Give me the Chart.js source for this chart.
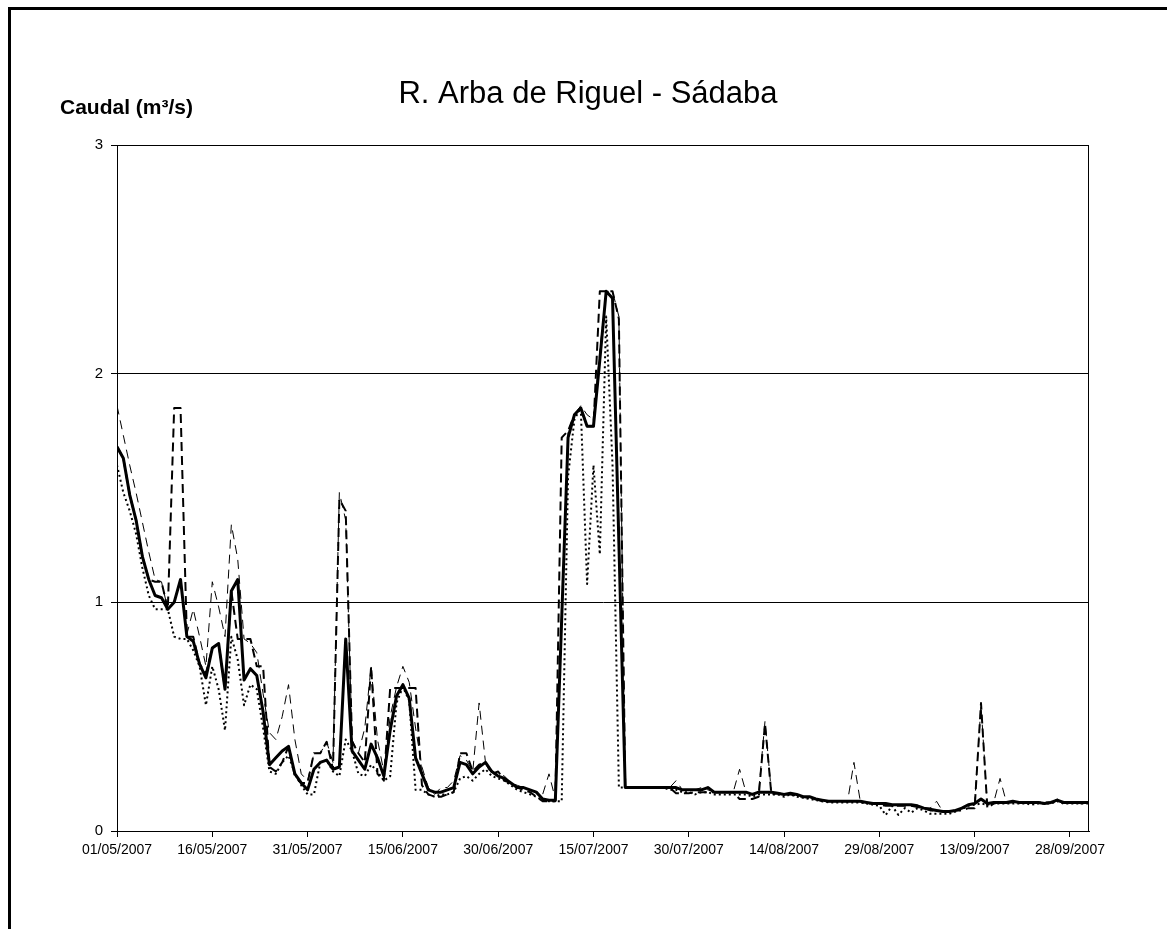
<!DOCTYPE html>
<html>
<head>
<meta charset="utf-8">
<script src="https://cdn.jsdelivr.net/npm/chart.js@4.4.0/dist/chart.umd.min.js"></script>
<style>
  html, body { margin: 0; padding: 0; background: #fff; }
  #wrap { position: relative; width: 1167px; height: 929px; overflow: hidden; }
  #frame { position: absolute; left: 8px; top: 7px; width: 1300px; height: 1100px;
           border-top: 3px solid #000; border-left: 3px solid #000; }
  canvas { position: absolute; left: 0; top: 0; }
</style>
</head>
<body>
<div id="wrap">
  <div id="frame"></div>
  <canvas id="chart" width="1167" height="929"></canvas>
</div>
<script>
// Textos
var chartTitle = "R. Arba de Riguel - Sádaba";
var yTitle = "Caudal (m³/s)";

// Etiquetas del eje X (una cada 15 días, desde el 01/05/2007)
var tickLabels = ["01/05/2007", "16/05/2007", "31/05/2007", "15/06/2007", "30/06/2007",
    "15/07/2007", "30/07/2007", "14/08/2007", "29/08/2007", "13/09/2007", "28/09/2007"];
var tickStep = 15;
var numDays = 154; // 01/05/2007 .. 01/10/2007

// Caudal diario - línea continua gruesa
var caudalA = [
    1.68, 1.63, 1.47, 1.36, 1.20, 1.10, 1.03, 1.02, 0.97, 1.00,
    1.10, 0.85, 0.83, 0.73, 0.67, 0.80, 0.82, 0.62, 1.05, 1.10,
    0.66, 0.71, 0.68, 0.52, 0.29, 0.32, 0.35, 0.37, 0.25, 0.21,
    0.18, 0.27, 0.30, 0.31, 0.27, 0.28, 0.84, 0.35, 0.31, 0.27,
    0.38, 0.32, 0.24, 0.44, 0.59, 0.64, 0.58, 0.32, 0.25, 0.18,
    0.17, 0.17, 0.18, 0.19, 0.30, 0.29, 0.25, 0.28, 0.30, 0.26,
    0.24, 0.23, 0.21, 0.19, 0.19, 0.18, 0.17, 0.14, 0.135, 0.135,
    0.93, 1.72, 1.82, 1.85, 1.77, 1.77, 2.06, 2.36, 2.33, 1.26,
    0.19, 0.19, 0.19, 0.19, 0.19, 0.19, 0.19, 0.19, 0.19, 0.18,
    0.18, 0.18, 0.18, 0.19, 0.17, 0.17, 0.17, 0.17, 0.17, 0.17,
    0.16, 0.17, 0.17, 0.17, 0.165, 0.16, 0.165, 0.16, 0.15, 0.15,
    0.14, 0.135, 0.13, 0.13, 0.13, 0.13, 0.13, 0.13, 0.125, 0.12,
    0.12, 0.12, 0.115, 0.115, 0.115, 0.115, 0.11, 0.10, 0.095, 0.09,
    0.085, 0.085, 0.09, 0.10, 0.115, 0.12, 0.14, 0.12, 0.125, 0.125,
    0.125, 0.13, 0.125, 0.125, 0.125, 0.125, 0.12, 0.125, 0.135, 0.125,
    0.125, 0.125, 0.125, 0.125
];

// Línea de trazos gruesa
var caudalB = [
    1.68, 1.63, 1.47, 1.36, 1.20, 1.10, 1.09, 1.09, 0.97, 1.85,
    1.85, 0.85, 0.85, 0.73, 0.69, 0.80, 0.82, 0.62, 1.05, 0.84,
    0.84, 0.84, 0.72, 0.72, 0.28, 0.26, 0.30, 0.37, 0.24, 0.21,
    0.21, 0.34, 0.34, 0.39, 0.27, 1.45, 1.40, 0.39, 0.34, 0.30,
    0.72, 0.25, 0.22, 0.625, 0.625, 0.625, 0.625, 0.625, 0.20, 0.16,
    0.15, 0.15, 0.16, 0.17, 0.34, 0.34, 0.26, 0.29, 0.30, 0.25,
    0.26, 0.22, 0.21, 0.19, 0.18, 0.17, 0.15, 0.13, 0.13, 0.13,
    1.72, 1.75, 1.82, 1.85, 1.77, 1.77, 2.36, 2.36, 2.36, 2.24,
    0.19, 0.19, 0.19, 0.19, 0.19, 0.19, 0.19, 0.19, 0.165, 0.165,
    0.165, 0.17, 0.17, 0.17, 0.17, 0.17, 0.17, 0.17, 0.14, 0.14,
    0.14, 0.15, 0.47, 0.16, 0.165, 0.16, 0.16, 0.155, 0.15, 0.145,
    0.14, 0.13, 0.13, 0.13, 0.13, 0.13, 0.13, 0.13, 0.12, 0.12,
    0.115, 0.11, 0.11, 0.11, 0.11, 0.11, 0.105, 0.10, 0.09, 0.09,
    0.085, 0.085, 0.09, 0.09, 0.10, 0.10, 0.56, 0.10, 0.12, 0.125,
    0.125, 0.125, 0.125, 0.125, 0.12, 0.125, 0.125, 0.125, 0.13, 0.125,
    0.125, 0.125, 0.12, 0.125
];

// Línea de trazos fina
var caudalC = [
    1.86, 1.73, 1.60, 1.48, 1.35, 1.22, 1.10, 1.09, 0.97, 1.00,
    1.10, 0.86, 0.97, 0.85, 0.72, 1.09, 0.98, 0.85, 1.34, 1.19,
    0.84, 0.82, 0.78, 0.60, 0.43, 0.40, 0.50, 0.64, 0.40, 0.25,
    0.22, 0.34, 0.34, 0.39, 0.30, 1.48, 1.36, 0.40, 0.34, 0.45,
    0.72, 0.40, 0.26, 0.50, 0.63, 0.72, 0.65, 0.45, 0.28, 0.19,
    0.16, 0.19, 0.19, 0.22, 0.33, 0.31, 0.26, 0.56, 0.30, 0.26,
    0.25, 0.24, 0.21, 0.20, 0.19, 0.18, 0.17, 0.16, 0.25, 0.14,
    0.95, 1.75, 1.82, 1.86, 1.82, 1.80, 2.10, 2.36, 2.36, 2.25,
    0.19, 0.19, 0.19, 0.19, 0.19, 0.19, 0.19, 0.19, 0.22, 0.18,
    0.18, 0.18, 0.19, 0.18, 0.17, 0.17, 0.17, 0.17, 0.27, 0.17,
    0.16, 0.17, 0.48, 0.17, 0.165, 0.16, 0.165, 0.16, 0.15, 0.15,
    0.14, 0.135, 0.13, 0.13, 0.13, 0.13, 0.30, 0.13, 0.125, 0.12,
    0.12, 0.12, 0.115, 0.115, 0.115, 0.115, 0.11, 0.10, 0.10, 0.13,
    0.085, 0.085, 0.09, 0.10, 0.115, 0.12, 0.55, 0.12, 0.125, 0.23,
    0.125, 0.13, 0.125, 0.125, 0.125, 0.125, 0.12, 0.125, 0.14, 0.125,
    0.125, 0.125, 0.125, 0.125
];

// Línea de puntos
var caudalD = [
    1.60, 1.48, 1.40, 1.30, 1.15, 1.03, 0.97, 0.97, 0.97, 0.85,
    0.84, 0.84, 0.79, 0.72, 0.55, 0.72, 0.62, 0.44, 0.85, 0.75,
    0.55, 0.64, 0.62, 0.45, 0.26, 0.25, 0.30, 0.33, 0.25, 0.20,
    0.16, 0.16, 0.30, 0.31, 0.26, 0.24, 0.40, 0.35, 0.25, 0.24,
    0.29, 0.26, 0.22, 0.24, 0.56, 0.63, 0.57, 0.18, 0.18, 0.16,
    0.15, 0.16, 0.16, 0.17, 0.23, 0.24, 0.22, 0.25, 0.27, 0.24,
    0.23, 0.22, 0.20, 0.18, 0.17, 0.16, 0.15, 0.135, 0.13, 0.13,
    0.13, 1.55, 1.80, 1.85, 1.08, 1.60, 1.21, 2.25, 1.60, 0.19,
    0.19, 0.19, 0.19, 0.19, 0.19, 0.19, 0.19, 0.18, 0.18, 0.17,
    0.17, 0.16, 0.17, 0.17, 0.16, 0.16, 0.16, 0.16, 0.16, 0.16,
    0.15, 0.16, 0.16, 0.16, 0.16, 0.15, 0.16, 0.15, 0.145, 0.14,
    0.135, 0.13, 0.125, 0.125, 0.125, 0.125, 0.125, 0.125, 0.12, 0.115,
    0.11, 0.07, 0.11, 0.07, 0.10, 0.08, 0.10, 0.09, 0.075, 0.075,
    0.075, 0.075, 0.085, 0.095, 0.11, 0.115, 0.12, 0.115, 0.12, 0.12,
    0.12, 0.12, 0.12, 0.12, 0.115, 0.12, 0.12, 0.12, 0.13, 0.12,
    0.12, 0.12, 0.12, 0.12
];

var FONT = "Arial, 'Liberation Sans', sans-serif";

// Convierte una serie en puntos {x: día, y: caudal}
function toPoints(values) {
    return values.map(function (v, i) { return { x: i, y: v }; });
}

function serie(values, width, dash) {
    return {
        data: toPoints(values),
        borderColor: "#000",
        borderWidth: width,
        borderDash: dash,
        borderCapStyle: "butt",
        borderJoinStyle: "round",
        pointRadius: 0,
        fill: false,
        tension: 0,
    };
}

// Títulos y marco del área de trazado
var decorPlugin = {
    id: "decor",
    afterDraw: function (chart) {
        var ctx = chart.ctx;
        var a = chart.chartArea;
        ctx.save();
        ctx.strokeStyle = "#000";
        ctx.lineWidth = 1;
        ctx.strokeRect(a.left + 0.5, a.top + 0.5, a.right - a.left - 1, a.bottom - a.top);
        ctx.fillStyle = "#000";
        ctx.textBaseline = "middle";
        ctx.textAlign = "center";
        ctx.font = "31px " + FONT;
        ctx.fillText(chartTitle, 588, 94);
        ctx.textAlign = "left";
        ctx.font = "bold 21px " + FONT;
        ctx.fillText(yTitle, 60, 108);
        ctx.restore();
    },
};

var ctx = document.getElementById("chart").getContext("2d");
var caudalChart = new Chart(ctx, {
    type: "line",
    data: {
        datasets: [
            serie(caudalA, 3, []),
            serie(caudalB, 2, [9, 5]),
            serie(caudalC, 1, [9, 6]),
            serie(caudalD, 2, [2, 3]),
        ],
    },
    options: {
        responsive: false,
        animation: false,
        devicePixelRatio: 1,
        layout: { padding: { left: 0, top: 145, right: 78, bottom: 0 } },
        plugins: {
            legend: { display: false },
            tooltip: { enabled: false },
        },
        scales: {
            x: {
                type: "linear",
                min: 0,
                max: numDays - 1,
                afterFit: function (axis) { axis.height = 98; },
                border: { display: true, color: "#000", width: 1 },
                grid: { drawOnChartArea: false, drawTicks: true, tickLength: 6, color: "#000" },
                ticks: {
                    stepSize: tickStep,
                    includeBounds: false,
                    autoSkip: false,
                    maxRotation: 0,
                    padding: 5,
                    color: "#000",
                    font: { family: FONT, size: 14 },
                    callback: function (v) {
                        return v % tickStep === 0 ? tickLabels[v / tickStep] : "";
                    },
                },
            },
            y: {
                min: 0,
                max: 3,
                afterFit: function (axis) { axis.width = 117; },
                border: { display: true, color: "#000", width: 1 },
                grid: { color: "#000", lineWidth: 1, drawTicks: true, tickLength: 6 },
                ticks: {
                    stepSize: 1,
                    padding: 8,
                    color: "#000",
                    font: { family: FONT, size: 15 },
                },
            },
        },
    },
    plugins: [decorPlugin],
});
</script>
</body>
</html>
